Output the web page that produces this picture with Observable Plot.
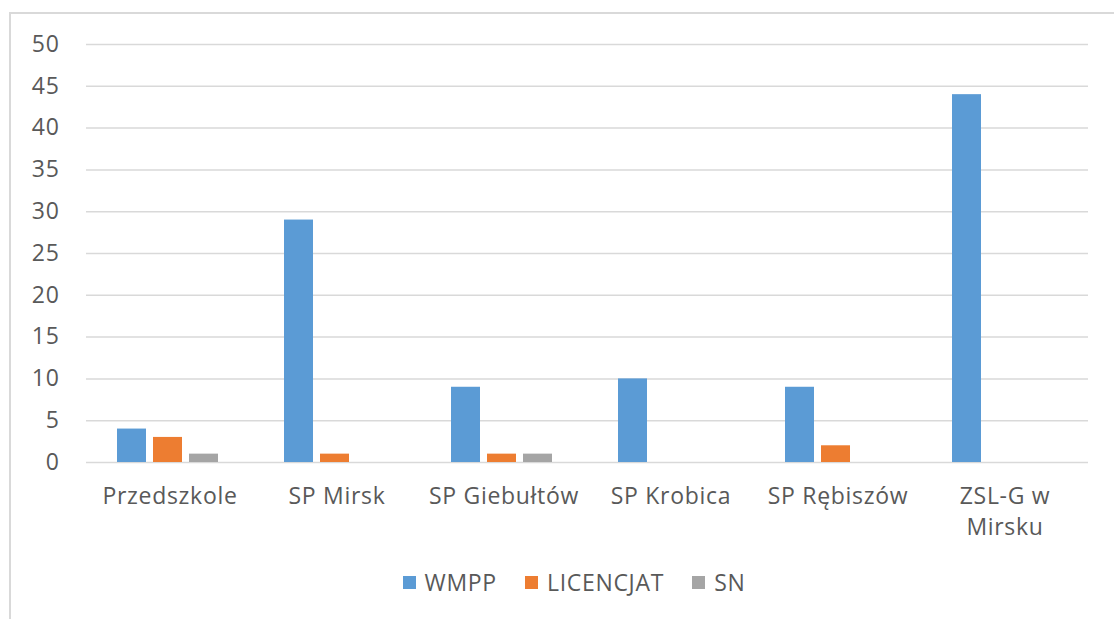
<!DOCTYPE html>
<html><head><meta charset="utf-8">
<script src="https://cdn.jsdelivr.net/npm/d3@7"></script>
<script src="https://cdn.jsdelivr.net/npm/@observablehq/plot@0.6"></script>
<style>
body{margin:0;background:#fff;font-family:"Open Sans",sans-serif;}
#wrap{position:relative;width:1114px;height:619px;overflow:hidden;}
#border{position:absolute;left:9px;top:12px;width:1200px;height:700px;border:2px solid #d9d9d9;box-sizing:border-box;}
#chart{position:absolute;left:0;top:0;}
#chart svg text{letter-spacing:0.7px;}
#legend{position:absolute;left:17px;width:1114px;top:566px;display:flex;justify-content:center;gap:28px;font-size:23px;letter-spacing:0.7px;color:#595959;line-height:32px;}
#legend span.item{display:flex;align-items:center;gap:9px;}
#legend i{display:inline-block;width:13px;height:13px;}
</style></head>
<body><div id="wrap"><div id="border"></div><div id="chart"></div><div id="legend"></div></div>
<script>
const categories = ["Przedszkole","SP Mirsk","SP Giebułtów","SP Krobica","SP Rębiszów","ZSL-G w Mirsku"];
const categoryLabels = ["Przedszkole","SP Mirsk","SP Giebułtów","SP Krobica","SP Rębiszów","ZSL-G w\nMirsku"];
const series = ["WMPP","LICENCJAT","SN"];
const wmpp = [4,29,9,10,9,44];
const licencjat = [3,1,1,0,2,0];
const sn = [1,0,1,0,0,0];
const yTicks = [0,5,10,15,20,25,30,35,40,45,50];
const colors = ["#5b9bd5","#ed7d31","#a5a5a5"];

const values = [wmpp, licencjat, sn];
const data = [];
categories.forEach((c,i)=>series.forEach((s,j)=>data.push({category:c, series:s, value:values[j][i]})));
const labelOf = Object.fromEntries(categories.map((c,i)=>[c,categoryLabels[i]]));

const chart = Plot.plot({
  width:1114, height:560,
  marginTop:44, marginBottom:98, marginLeft:85, marginRight:26,
  style:{fontFamily:"Open Sans, sans-serif", fontSize:"23px", color:"#595959", background:"transparent"},
  fx:{domain:categories, padding:0, label:null},
  x:{domain:series, paddingInner:0.2, paddingOuter:0.9, axis:null},
  y:{domain:[0,50], label:null},
  color:{domain:series, range:colors},
  marks:[
    Plot.gridY(yTicks,{stroke:"#d9d9d9", strokeOpacity:1, strokeWidth:1.5}),
    Plot.barY(data,{fx:"category", x:"series", y:"value", fill:"series", dx:-2}),
    Plot.axisY(yTicks,{tickSize:0, tickPadding:27, fill:"#595959", fontSize:23, label:null}),
    Plot.axisFx({anchor:"bottom", tickSize:0, tickPadding:19, fill:"#595959", fontSize:23, lineHeight:1.37, label:null, tickFormat:d=>labelOf[d]})
  ]
});
document.getElementById("chart").appendChild(chart);
const legend = document.getElementById("legend");
series.forEach((s,j)=>{
  const it=document.createElement("span");it.className="item";
  it.innerHTML=`<i style="background:${colors[j]}"></i>${s}`;
  legend.appendChild(it);
});
</script></body></html>
